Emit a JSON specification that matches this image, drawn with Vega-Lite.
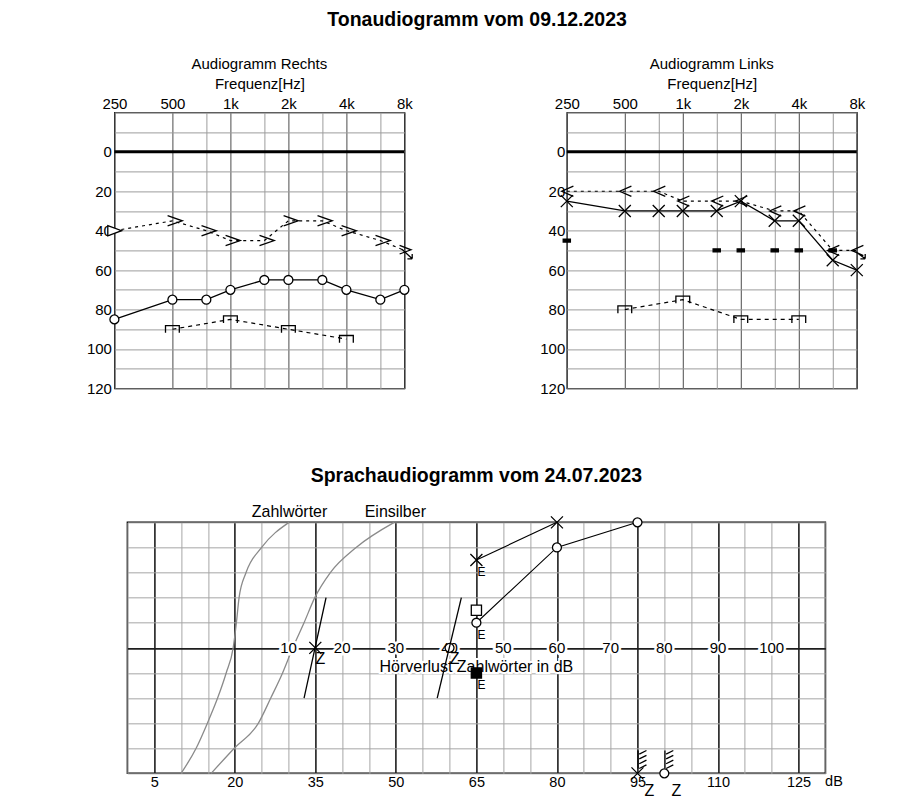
{
  "$schema": "https://vega.github.io/schema/vega-lite/v6.json",
  "background": "white",
  "padding": {"left": 85.4, "top": 9.4, "right": 10, "bottom": 10},
  "config": {
    "font": "Liberation Sans",
    "view": {"stroke": "black", "strokeWidth": 1.2},
    "text": {"font": "Liberation Sans", "color": "black"},
    "title": {"font": "Liberation Sans", "color": "black"},
    "axis": {"ticks": false, "tickSize": 0, "domain": false, "labelFont": "Liberation Sans", "labelFontSize": 15, "labelColor": "black", "titleFont": "Liberation Sans", "titleColor": "black", "titleFontWeight": "normal", "labelFlush": false, "labelOverlap": false, "gridOpacity": 1, "gridWidth": 1}
  },
  "datasets": {
    "tone": [
      {"ear": "R", "m": "air", "f": 250, "db": 85, "sym": "o"},
      {"ear": "R", "m": "air", "f": 500, "db": 75, "sym": "o"},
      {"ear": "R", "m": "air", "f": 750, "db": 75, "sym": "o"},
      {"ear": "R", "m": "air", "f": 1000, "db": 70, "sym": "o"},
      {"ear": "R", "m": "air", "f": 1500, "db": 65, "sym": "o"},
      {"ear": "R", "m": "air", "f": 2000, "db": 65, "sym": "o"},
      {"ear": "R", "m": "air", "f": 3000, "db": 65, "sym": "o"},
      {"ear": "R", "m": "air", "f": 4000, "db": 70, "sym": "o"},
      {"ear": "R", "m": "air", "f": 6000, "db": 75, "sym": "o"},
      {"ear": "R", "m": "air", "f": 8000, "db": 70, "sym": "o"},
      {"ear": "R", "m": "bone", "f": 250, "db": 40, "sym": "tri"},
      {"ear": "R", "m": "bone", "f": 500, "db": 35, "sym": "gt"},
      {"ear": "R", "m": "bone", "f": 750, "db": 40, "sym": "gt"},
      {"ear": "R", "m": "bone", "f": 1000, "db": 45, "sym": "gt"},
      {"ear": "R", "m": "bone", "f": 1500, "db": 45, "sym": "gt"},
      {"ear": "R", "m": "bone", "f": 2000, "db": 35, "sym": "gt"},
      {"ear": "R", "m": "bone", "f": 3000, "db": 35, "sym": "gt"},
      {"ear": "R", "m": "bone", "f": 4000, "db": 40, "sym": "gt"},
      {"ear": "R", "m": "bone", "f": 6000, "db": 45, "sym": "gt"},
      {"ear": "R", "m": "bone", "f": 8000, "db": 50, "sym": "gt_arrow"},
      {"ear": "R", "m": "ucl", "f": 500, "db": 90, "sym": "ucl"},
      {"ear": "R", "m": "ucl", "f": 1000, "db": 85, "sym": "ucl"},
      {"ear": "R", "m": "ucl", "f": 2000, "db": 90, "sym": "ucl"},
      {"ear": "R", "m": "ucl", "f": 4000, "db": 95, "sym": "ucl"},
      {"ear": "L", "m": "air", "f": 250, "db": 25, "sym": "x"},
      {"ear": "L", "m": "air", "f": 500, "db": 30, "sym": "x"},
      {"ear": "L", "m": "air", "f": 750, "db": 30, "sym": "x"},
      {"ear": "L", "m": "air", "f": 1000, "db": 30, "sym": "x"},
      {"ear": "L", "m": "air", "f": 1500, "db": 30, "sym": "x"},
      {"ear": "L", "m": "air", "f": 2000, "db": 25, "sym": "x"},
      {"ear": "L", "m": "air", "f": 3000, "db": 35, "sym": "x"},
      {"ear": "L", "m": "air", "f": 4000, "db": 35, "sym": "x"},
      {"ear": "L", "m": "air", "f": 6000, "db": 55, "sym": "x"},
      {"ear": "L", "m": "air", "f": 8000, "db": 60, "sym": "x"},
      {"ear": "L", "m": "bone", "f": 250, "db": 20, "sym": "lt"},
      {"ear": "L", "m": "bone", "f": 500, "db": 20, "sym": "lt"},
      {"ear": "L", "m": "bone", "f": 750, "db": 20, "sym": "lt"},
      {"ear": "L", "m": "bone", "f": 1000, "db": 25, "sym": "lt"},
      {"ear": "L", "m": "bone", "f": 1500, "db": 25, "sym": "lt"},
      {"ear": "L", "m": "bone", "f": 2000, "db": 25, "sym": "lt"},
      {"ear": "L", "m": "bone", "f": 3000, "db": 30, "sym": "lt"},
      {"ear": "L", "m": "bone", "f": 4000, "db": 30, "sym": "lt"},
      {"ear": "L", "m": "bone", "f": 6000, "db": 50, "sym": "lt"},
      {"ear": "L", "m": "bone", "f": 8000, "db": 50, "sym": "lt_arrow"},
      {"ear": "L", "m": "ucl", "f": 500, "db": 80, "sym": "ucl"},
      {"ear": "L", "m": "ucl", "f": 1000, "db": 75, "sym": "ucl"},
      {"ear": "L", "m": "ucl", "f": 2000, "db": 85, "sym": "ucl"},
      {"ear": "L", "m": "ucl", "f": 4000, "db": 85, "sym": "ucl"},
      {"ear": "L", "m": "mask", "f": 250, "db": 45, "sym": "mask"},
      {"ear": "L", "m": "mask", "f": 1500, "db": 50, "sym": "mask"},
      {"ear": "L", "m": "mask", "f": 2000, "db": 50, "sym": "mask"},
      {"ear": "L", "m": "mask", "f": 3000, "db": 50, "sym": "mask"},
      {"ear": "L", "m": "mask", "f": 4000, "db": 50, "sym": "mask"},
      {"ear": "L", "m": "mask", "f": 6000, "db": 50, "sym": "mask"}
    ],
    "speech": [
      {"k": "norm", "s": "Zahlwörter", "db": 10.0, "pct": 0},
      {"k": "norm", "s": "Zahlwörter", "db": 12.8, "pct": 10},
      {"k": "norm", "s": "Zahlwörter", "db": 14.9, "pct": 20},
      {"k": "norm", "s": "Zahlwörter", "db": 16.8, "pct": 30},
      {"k": "norm", "s": "Zahlwörter", "db": 18.4, "pct": 40},
      {"k": "norm", "s": "Zahlwörter", "db": 19.7, "pct": 50},
      {"k": "norm", "s": "Zahlwörter", "db": 20.3, "pct": 60},
      {"k": "norm", "s": "Zahlwörter", "db": 20.8, "pct": 70},
      {"k": "norm", "s": "Zahlwörter", "db": 22.1, "pct": 80},
      {"k": "norm", "s": "Zahlwörter", "db": 25.0, "pct": 90},
      {"k": "norm", "s": "Zahlwörter", "db": 30.1, "pct": 100},
      {"k": "norm", "s": "Einsilber", "db": 15.6, "pct": 0},
      {"k": "norm", "s": "Einsilber", "db": 19.9, "pct": 10},
      {"k": "norm", "s": "Einsilber", "db": 24.4, "pct": 20},
      {"k": "norm", "s": "Einsilber", "db": 26.7, "pct": 30},
      {"k": "norm", "s": "Einsilber", "db": 28.9, "pct": 40},
      {"k": "norm", "s": "Einsilber", "db": 30.8, "pct": 50},
      {"k": "norm", "s": "Einsilber", "db": 32.9, "pct": 60},
      {"k": "norm", "s": "Einsilber", "db": 34.9, "pct": 70},
      {"k": "norm", "s": "Einsilber", "db": 37.8, "pct": 80},
      {"k": "norm", "s": "Einsilber", "db": 42.6, "pct": 90},
      {"k": "norm", "s": "Einsilber", "db": 49.7, "pct": 100},
      {"k": "slope", "s": "L", "db": 32.9, "pct": 30},
      {"k": "slope", "s": "L", "db": 37.0, "pct": 70},
      {"k": "slope", "s": "R", "db": 57.7, "pct": 30},
      {"k": "slope", "s": "R", "db": 62.2, "pct": 70},
      {"k": "curve", "s": "L", "db": 65, "pct": 85},
      {"k": "curve", "s": "L", "db": 80, "pct": 100},
      {"k": "curve", "s": "R", "db": 65, "pct": 60},
      {"k": "curve", "s": "R", "db": 80, "pct": 90},
      {"k": "curve", "s": "R", "db": 95, "pct": 100},
      {"k": "pt", "sym": "x", "db": 65, "pct": 85},
      {"k": "pt", "sym": "x", "db": 80, "pct": 100},
      {"k": "pt", "sym": "o", "db": 65, "pct": 60},
      {"k": "pt", "sym": "o", "db": 80, "pct": 90},
      {"k": "pt", "sym": "o", "db": 95, "pct": 100},
      {"k": "pt", "sym": "sq", "db": 65, "pct": 65},
      {"k": "pt", "sym": "sqf", "db": 65, "pct": 40},
      {"k": "pt", "sym": "x", "db": 35, "pct": 50},
      {"k": "pt", "sym": "o", "db": 60, "pct": 50},
      {"k": "pt", "sym": "x", "db": 95, "pct": 0},
      {"k": "pt", "sym": "o", "db": 100, "pct": 0},
      {"k": "pt", "sym": "hatch", "db": 95, "pct": 0},
      {"k": "pt", "sym": "hatch", "db": 100, "pct": 0},
      {"k": "E", "db": 65, "pct": 85, "t": "E"},
      {"k": "E", "db": 65, "pct": 60, "t": "E"},
      {"k": "E", "db": 65, "pct": 40, "t": "E"},
      {"k": "Zm", "db": 35, "pct": 50, "t": "Z"},
      {"k": "Zm", "db": 60, "pct": 50, "t": "Z"},
      {"k": "Zl", "db": 95, "pct": 0, "t": "Z"},
      {"k": "Zl", "db": 100, "pct": 0, "t": "Z"},
      {"k": "hv", "db": 30, "pct": 50, "t": "10"},
      {"k": "hv", "db": 40, "pct": 50, "t": "20"},
      {"k": "hv", "db": 50, "pct": 50, "t": "30"},
      {"k": "hv", "db": 60, "pct": 50, "t": "40"},
      {"k": "hv", "db": 70, "pct": 50, "t": "50"},
      {"k": "hv", "db": 80, "pct": 50, "t": "60"},
      {"k": "hv", "db": 90, "pct": 50, "t": "70"},
      {"k": "hv", "db": 100, "pct": 50, "t": "80"},
      {"k": "hv", "db": 110, "pct": 50, "t": "90"},
      {"k": "hv", "db": 120, "pct": 50, "t": "100"},
      {"k": "hvt", "db": 65, "pct": 42.5, "t": "Hörverlust Zahlwörter in dB"},
      {"k": "ann", "db": 30.2, "pct": 100, "t": "Zahlwörter"},
      {"k": "ann", "db": 49.9, "pct": 100, "t": "Einsilber"},
      {"k": "unit", "db": 131.6, "pct": 0, "t": "dB"}
    ]
  },
  "spacing": 67.95,
  "vconcat": [
    {
      "title": {"text": "Tonaudiogramm vom 09.12.2023", "fontSize": 19.5, "fontWeight": "bold", "anchor": "middle", "baseline": "alphabetic", "offset": 10.3},
      "bounds": "flush",
      "spacing": 162.4,
      "hconcat": [
        {
          "width": 290, "height": 276,
          "title": {"text": "Audiogramm Rechts", "fontSize": 15, "fontWeight": "normal", "frame": "group", "baseline": "alphabetic", "offset": -7.6, "anchor": "middle"},
          "layer": [
            {
              "data": {"name": "tone"},
              "transform": [{"filter": "datum.ear == 'R' && datum.m == 'air'"}],
              "mark": {"type": "line", "color": "black", "strokeWidth": 1.3},
              "encoding": {
                "x": {"field": "f", "type": "quantitative", "scale": {"type": "log", "domain": [250, 8000], "nice": false},
                  "axis": {"orient": "top", "tickCount": 100, "values": [250, 500, 750, 1000, 1500, 2000, 3000, 4000, 6000, 8000],
                    "labelExpr": "datum.value == 250 ? '250' : datum.value == 500 ? '500' : datum.value == 1000 ? '1k' : datum.value == 2000 ? '2k' : datum.value == 4000 ? '4k' : datum.value == 8000 ? '8k' : ''",
                    "labelOverlap": false, "labelBaseline": "alphabetic", "labelPadding": 3.7, "title": "Frequenz[Hz]", "titleY": -24.3, "titleBaseline": "alphabetic", "titleFontSize": 15,
                    "grid": true, "gridColor": {"condition": {"test": "indexof([250,500,1000,2000,4000,8000], datum.value) >= 0", "value": "#4a4a4a"}, "value": "#9c9c9c"}}},
                "y": {"field": "db", "type": "quantitative", "scale": {"domain": [-20, 120], "reverse": true, "nice": false, "zero": false},
                  "axis": {"tickCount": 100, "values": [-20, -10, 0, 10, 20, 30, 40, 50, 60, 70, 80, 90, 100, 110, 120],
                    "labelExpr": "datum.value >= 0 && datum.value % 20 == 0 ? datum.label : ''",
                    "labelOverlap": false, "labelPadding": 3, "title": null, "grid": true, "gridColor": "#9c9c9c"}}
              }
            },
            {
              "data": {"values": [{"db": 0}]},
              "mark": {"type": "rule", "color": "black", "strokeWidth": 3},
              "encoding": {"y": {"field": "db", "type": "quantitative"}}
            },
            {
              "data": {"name": "tone"},
              "transform": [{"filter": "datum.ear == 'R' && datum.m == 'bone'"}],
              "mark": {"type": "line", "color": "black", "strokeWidth": 1.2, "strokeDash": [3, 4]},
              "encoding": {"x": {"field": "f", "type": "quantitative"}, "y": {"field": "db", "type": "quantitative"}}
            },
            {
              "data": {"name": "tone"},
              "transform": [{"filter": "datum.ear == 'R' && datum.m == 'ucl'"}],
              "mark": {"type": "line", "color": "black", "strokeWidth": 1.2, "strokeDash": [4, 4]},
              "encoding": {"x": {"field": "f", "type": "quantitative"}, "y": {"field": "db", "type": "quantitative"}}
            },
            {
              "data": {"name": "tone"},
              "transform": [{"filter": "datum.ear == 'R' && datum.sym == 'o'"}],
              "mark": {"type": "point", "shape": "circle", "filled": true, "fill": "white", "stroke": "black", "strokeWidth": 1.3, "size": 80, "opacity": 1},
              "encoding": {"x": {"field": "f", "type": "quantitative"}, "y": {"field": "db", "type": "quantitative"}}
            },
            {
              "data": {"name": "tone"},
              "transform": [{"filter": "datum.ear == 'R' && datum.sym != 'o'"}],
              "mark": {"type": "point", "filled": true, "stroke": "black", "strokeWidth": 1.3, "size": 144, "opacity": 1},
              "encoding": {
                "x": {"field": "f", "type": "quantitative"}, "y": {"field": "db", "type": "quantitative"},
                "shape": {"field": "sym", "type": "nominal", "legend": null, "scale": {"domain": ["x", "gt", "gt_arrow", "tri", "lt", "lt_arrow", "ucl", "mask", "sq", "sqf", "hatch"], "range": ["M-1,-1L1,1M-1,1L1,-1", "M-0.8,-0.85L1.65,0L-0.8,0.85", "M-0.8,-0.85L1.1,-0.1L-0.8,0.6M-0.4,-0.2L1.3,1.4M1.3,1.4L0.5,1.4M1.3,1.4L1.3,0.6", "M-1.1,-0.85L1.2,0L-1.1,0.85Z", "M1.1,-0.85L-0.85,0L1.1,0.85", "M1.1,-0.85L-0.85,0L1.1,0.85M-0.2,0.2L1.4,1.4M1.4,1.4L0.6,1.4M1.4,1.4L1.4,0.6", "M-1.15,0.6V-0.6H1.15V0.6", "M-0.6,-0.25H0.6V0.25H-0.6Z", "M-0.85,-0.85H0.85V0.85H-0.85Z", "M-0.85,-0.85H0.85V0.85H-0.85Z", "M0.1,-3.8V-0.8M0.3,-3.2L1.5,-3.8M0.3,-2.4L1.5,-3M0.3,-1.6L1.5,-2.2M0.3,-0.8L1.5,-1.4"]}},
                "fill": {"field": "sym", "type": "nominal", "legend": null, "scale": {"domain": ["x", "gt", "gt_arrow", "tri", "lt", "lt_arrow", "ucl", "mask", "sq", "sqf", "hatch"], "range": ["transparent", "transparent", "transparent", "white", "transparent", "transparent", "transparent", "black", "white", "black", "transparent"]}}
              }
            }
          ]
        },
        {
          "width": 290, "height": 276,
          "title": {"text": "Audiogramm Links", "fontSize": 15, "fontWeight": "normal", "frame": "group", "baseline": "alphabetic", "offset": -7.6, "anchor": "middle"},
          "layer": [
            {
              "data": {"name": "tone"},
              "transform": [{"filter": "datum.ear == 'L' && datum.m == 'air'"}],
              "mark": {"type": "line", "color": "black", "strokeWidth": 1.3},
              "encoding": {
                "x": {"field": "f", "type": "quantitative", "scale": {"type": "log", "domain": [250, 8000], "nice": false},
                  "axis": {"orient": "top", "tickCount": 100, "values": [250, 500, 750, 1000, 1500, 2000, 3000, 4000, 6000, 8000],
                    "labelExpr": "datum.value == 250 ? '250' : datum.value == 500 ? '500' : datum.value == 1000 ? '1k' : datum.value == 2000 ? '2k' : datum.value == 4000 ? '4k' : datum.value == 8000 ? '8k' : ''",
                    "labelOverlap": false, "labelBaseline": "alphabetic", "labelPadding": 3.7, "title": "Frequenz[Hz]", "titleY": -24.3, "titleBaseline": "alphabetic", "titleFontSize": 15,
                    "grid": true, "gridColor": {"condition": {"test": "indexof([250,500,1000,2000,4000,8000], datum.value) >= 0", "value": "#4a4a4a"}, "value": "#9c9c9c"}}},
                "y": {"field": "db", "type": "quantitative", "scale": {"domain": [-20, 120], "reverse": true, "nice": false, "zero": false},
                  "axis": {"tickCount": 100, "values": [-20, -10, 0, 10, 20, 30, 40, 50, 60, 70, 80, 90, 100, 110, 120],
                    "labelExpr": "datum.value >= 0 && datum.value % 20 == 0 ? datum.label : ''",
                    "labelOverlap": false, "labelPadding": 2, "title": null, "grid": true, "gridColor": "#9c9c9c"}}
              }
            },
            {
              "data": {"values": [{"db": 0}]},
              "mark": {"type": "rule", "color": "black", "strokeWidth": 3},
              "encoding": {"y": {"field": "db", "type": "quantitative"}}
            },
            {
              "data": {"name": "tone"},
              "transform": [{"filter": "datum.ear == 'L' && datum.m == 'bone'"}],
              "mark": {"type": "line", "color": "black", "strokeWidth": 1.2, "strokeDash": [3, 4]},
              "encoding": {"x": {"field": "f", "type": "quantitative"}, "y": {"field": "db", "type": "quantitative"}}
            },
            {
              "data": {"name": "tone"},
              "transform": [{"filter": "datum.ear == 'L' && datum.m == 'ucl'"}],
              "mark": {"type": "line", "color": "black", "strokeWidth": 1.2, "strokeDash": [4, 4]},
              "encoding": {"x": {"field": "f", "type": "quantitative"}, "y": {"field": "db", "type": "quantitative"}}
            },
            {
              "data": {"name": "tone"},
              "transform": [{"filter": "datum.ear == 'L' && datum.sym != 'o'"}],
              "mark": {"type": "point", "filled": true, "stroke": "black", "strokeWidth": 1.3, "size": 144, "opacity": 1},
              "encoding": {
                "x": {"field": "f", "type": "quantitative"}, "y": {"field": "db", "type": "quantitative"},
                "shape": {"field": "sym", "type": "nominal", "legend": null, "scale": {"domain": ["x", "gt", "gt_arrow", "tri", "lt", "lt_arrow", "ucl", "mask", "sq", "sqf", "hatch"], "range": ["M-1,-1L1,1M-1,1L1,-1", "M-0.8,-0.85L1.65,0L-0.8,0.85", "M-0.8,-0.85L1.1,-0.1L-0.8,0.6M-0.4,-0.2L1.3,1.4M1.3,1.4L0.5,1.4M1.3,1.4L1.3,0.6", "M-1.1,-0.85L1.2,0L-1.1,0.85Z", "M1.1,-0.85L-0.85,0L1.1,0.85", "M1.1,-0.85L-0.85,0L1.1,0.85M-0.2,0.2L1.4,1.4M1.4,1.4L0.6,1.4M1.4,1.4L1.4,0.6", "M-1.15,0.6V-0.6H1.15V0.6", "M-0.6,-0.25H0.6V0.25H-0.6Z", "M-0.85,-0.85H0.85V0.85H-0.85Z", "M-0.85,-0.85H0.85V0.85H-0.85Z", "M0.1,-3.8V-0.8M0.3,-3.2L1.5,-3.8M0.3,-2.4L1.5,-3M0.3,-1.6L1.5,-2.2M0.3,-0.8L1.5,-1.4"]}},
                "fill": {"field": "sym", "type": "nominal", "legend": null, "scale": {"domain": ["x", "gt", "gt_arrow", "tri", "lt", "lt_arrow", "ucl", "mask", "sq", "sqf", "hatch"], "range": ["transparent", "transparent", "transparent", "white", "transparent", "transparent", "transparent", "black", "white", "black", "transparent"]}}
              }
            }
          ]
        }
      ]
    },
    {
      "bounds": "flush",
      "spacing": 0,
      "hconcat": [
        {
          "width": 12.4, "height": 1,
          "view": {"stroke": null},
          "data": {"values": [{"s": 0}]},
          "mark": {"type": "point", "size": 0, "opacity": 0, "strokeWidth": 0}
        },
        {
          "width": 698, "height": 251,
          "view": {"stroke": "black", "strokeWidth": 1.5},
          "title": {"text": "Sprachaudiogramm vom 24.07.2023", "fontSize": 19.5, "fontWeight": "bold", "frame": "group", "baseline": "alphabetic", "offset": 2.4, "anchor": "middle"},
          "data": {"name": "speech"},
          "layer": [
            {
              "transform": [{"filter": "datum.k == 'norm'"}],
              "mark": {"type": "line", "color": "#8a8a8a", "strokeWidth": 1.3, "interpolate": "monotone"},
              "encoding": {
                "x": {"field": "db", "type": "quantitative", "scale": {"domain": [0, 130], "nice": false, "zero": false},
                  "axis": {"tickCount": 100, "values": [0, 5, 10, 15, 20, 25, 30, 35, 40, 45, 50, 55, 60, 65, 70, 75, 80, 85, 90, 95, 100, 105, 110, 115, 120, 125, 130],
                    "labelExpr": "(datum.value - 5) % 15 == 0 ? datum.label : ''", "labelOverlap": false, "labelPadding": 2, "labelFontSize": 14.5, "title": null, "grid": true,
                    "gridColor": {"condition": {"test": "(datum.value - 5) % 15 == 0", "value": "#1e1e1e"}, "value": "#a6a6a6"},
                    "gridWidth": {"condition": {"test": "(datum.value - 5) % 15 == 0", "value": 1.6}, "value": 1}}},
                "y": {"field": "pct", "type": "quantitative", "scale": {"domain": [0, 100], "nice": false},
                  "axis": {"tickCount": 100, "values": [0, 10, 20, 30, 40, 50, 60, 70, 80, 90, 100], "labels": false, "title": null, "grid": true,
                    "gridColor": {"condition": {"test": "datum.value == 50", "value": "#1e1e1e"}, "value": "#a6a6a6"},
                    "gridWidth": {"condition": {"test": "datum.value == 50", "value": 1.6}, "value": 1}}},
                "detail": {"field": "s", "type": "nominal"}
              }
            },
            {
              "transform": [{"filter": "datum.k == 'hv'"}],
              "mark": {"type": "text", "fontSize": 15, "fill": "white", "stroke": "white", "strokeWidth": 5, "baseline": "middle"},
              "encoding": {"x": {"field": "db", "type": "quantitative"}, "y": {"field": "pct", "type": "quantitative"}, "text": {"field": "t"}}
            },
            {
              "transform": [{"filter": "datum.k == 'hv'"}],
              "mark": {"type": "text", "fontSize": 15, "color": "black", "fill": "black", "baseline": "middle"},
              "encoding": {"x": {"field": "db", "type": "quantitative"}, "y": {"field": "pct", "type": "quantitative"}, "text": {"field": "t"}}
            },
            {
              "transform": [{"filter": "datum.k == 'hvt'"}],
              "mark": {"type": "text", "fontSize": 16, "fill": "white", "stroke": "white", "strokeWidth": 4, "baseline": "middle"},
              "encoding": {"x": {"field": "db", "type": "quantitative"}, "y": {"field": "pct", "type": "quantitative"}, "text": {"field": "t"}}
            },
            {
              "transform": [{"filter": "datum.k == 'hvt'"}],
              "mark": {"type": "text", "fontSize": 16, "color": "black", "fill": "black", "baseline": "middle"},
              "encoding": {"x": {"field": "db", "type": "quantitative"}, "y": {"field": "pct", "type": "quantitative"}, "text": {"field": "t"}}
            },
            {
              "transform": [{"filter": "datum.k == 'curve'"}],
              "mark": {"type": "line", "color": "black", "strokeWidth": 1.1},
              "encoding": {"x": {"field": "db", "type": "quantitative"}, "y": {"field": "pct", "type": "quantitative"}, "detail": {"field": "s", "type": "nominal"}}
            },
            {
              "transform": [{"filter": "datum.k == 'pt' && datum.sym == 'o'"}],
              "mark": {"type": "point", "shape": "circle", "filled": true, "fill": "white", "stroke": "black", "strokeWidth": 1.3, "size": 80, "opacity": 1},
              "encoding": {"x": {"field": "db", "type": "quantitative"}, "y": {"field": "pct", "type": "quantitative"}}
            },
            {
              "transform": [{"filter": "datum.k == 'pt' && datum.sym != 'o'"}],
              "mark": {"type": "point", "filled": true, "stroke": "black", "strokeWidth": 1.3, "size": 144, "opacity": 1},
              "encoding": {
                "x": {"field": "db", "type": "quantitative"}, "y": {"field": "pct", "type": "quantitative"},
                "shape": {"field": "sym", "type": "nominal", "legend": null, "scale": {"domain": ["x", "gt", "gt_arrow", "tri", "lt", "lt_arrow", "ucl", "mask", "sq", "sqf", "hatch"], "range": ["M-1,-1L1,1M-1,1L1,-1", "M-0.8,-0.85L1.65,0L-0.8,0.85", "M-0.8,-0.85L1.1,-0.1L-0.8,0.6M-0.4,-0.2L1.3,1.4M1.3,1.4L0.5,1.4M1.3,1.4L1.3,0.6", "M-1.1,-0.85L1.2,0L-1.1,0.85Z", "M1.1,-0.85L-0.85,0L1.1,0.85", "M1.1,-0.85L-0.85,0L1.1,0.85M-0.2,0.2L1.4,1.4M1.4,1.4L0.6,1.4M1.4,1.4L1.4,0.6", "M-1.15,0.6V-0.6H1.15V0.6", "M-0.6,-0.25H0.6V0.25H-0.6Z", "M-0.85,-0.85H0.85V0.85H-0.85Z", "M-0.85,-0.85H0.85V0.85H-0.85Z", "M0.1,-3.8V-0.8M0.3,-3.2L1.5,-3.8M0.3,-2.4L1.5,-3M0.3,-1.6L1.5,-2.2M0.3,-0.8L1.5,-1.4"]}},
                "fill": {"field": "sym", "type": "nominal", "legend": null, "scale": {"domain": ["x", "gt", "gt_arrow", "tri", "lt", "lt_arrow", "ucl", "mask", "sq", "sqf", "hatch"], "range": ["transparent", "transparent", "transparent", "white", "transparent", "transparent", "transparent", "black", "white", "black", "transparent"]}}
              }
            },
            {
              "transform": [{"filter": "datum.k == 'slope'"}],
              "mark": {"type": "line", "color": "black", "strokeWidth": 1.3},
              "encoding": {"x": {"field": "db", "type": "quantitative"}, "y": {"field": "pct", "type": "quantitative"}, "detail": {"field": "s", "type": "nominal"}}
            },
            {
              "transform": [{"filter": "datum.k == 'E'"}],
              "mark": {"type": "text", "fontSize": 12, "color": "black", "fill": "black", "dx": 5, "dy": 12, "baseline": "middle"},
              "encoding": {"x": {"field": "db", "type": "quantitative"}, "y": {"field": "pct", "type": "quantitative"}, "text": {"field": "t"}}
            },
            {
              "transform": [{"filter": "datum.k == 'Zm'"}],
              "mark": {"type": "text", "fontSize": 16, "color": "black", "fill": "black", "dx": 5, "dy": 11, "baseline": "middle"},
              "encoding": {"x": {"field": "db", "type": "quantitative"}, "y": {"field": "pct", "type": "quantitative"}, "text": {"field": "t"}}
            },
            {
              "transform": [{"filter": "datum.k == 'Zl'"}],
              "mark": {"type": "text", "fontSize": 16, "color": "black", "fill": "black", "dx": 12, "dy": 18, "baseline": "middle"},
              "encoding": {"x": {"field": "db", "type": "quantitative"}, "y": {"field": "pct", "type": "quantitative"}, "text": {"field": "t"}}
            },
            {
              "transform": [{"filter": "datum.k == 'ann'"}],
              "mark": {"type": "text", "fontSize": 16, "color": "black", "fill": "black", "dy": -10, "baseline": "middle"},
              "encoding": {"x": {"field": "db", "type": "quantitative"}, "y": {"field": "pct", "type": "quantitative"}, "text": {"field": "t"}}
            },
            {
              "transform": [{"filter": "datum.k == 'unit'"}],
              "mark": {"type": "text", "fontSize": 14.5, "color": "black", "fill": "black", "dy": 2, "baseline": "top"},
              "encoding": {"x": {"field": "db", "type": "quantitative"}, "y": {"field": "pct", "type": "quantitative"}, "text": {"field": "t"}}
            }
          ]
        }
      ]
    }
  ]
}
